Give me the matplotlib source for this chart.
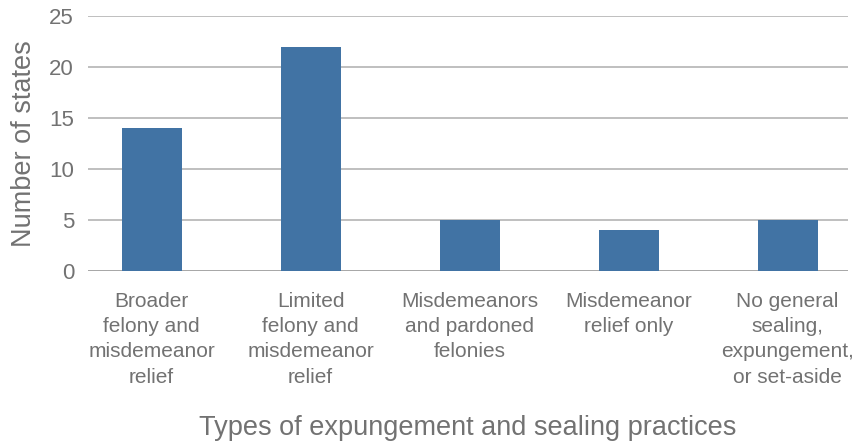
import matplotlib.pyplot as plt

categories = ['Broader\nfelony and\nmisdemeanor\nrelief',
              'Limited\nfelony and\nmisdemeanor\nrelief',
              'Misdemeanors\nand pardoned\nfelonies',
              'Misdemeanor\nrelief only',
              'No general\nsealing,\nexpungement,\nor set-aside']
states = [14, 22, 5, 4, 5]
yticks = [0, 5, 10, 15, 20, 25]

plt.rcParams['font.family'] = ['Liberation Sans', 'DejaVu Sans']
grey = '#727272'

fig = plt.figure(figsize=(8.56, 4.47), dpi=100)
ax = fig.add_axes([88 / 856, 176 / 447, 760 / 856, 255 / 447])

ax.bar(range(len(categories)), states, width=0.378, color='#4173a4', zorder=3)
ax.set_xlim(-0.4, 4.38)
ax.set_ylim(0, 25)
ax.set_yticks(yticks)
ax.yaxis.grid(True, color='#b4b4b4', linewidth=1.2, zorder=0)
ax.set_axisbelow(True)
for s in ax.spines.values():
    s.set_visible(False)
ax.axhline(0, color='#a8a8a8', linewidth=1.4, zorder=2)

ax.tick_params(axis='y', length=0, pad=10, labelsize=16, labelcolor=grey)
ax.tick_params(axis='x', length=0, pad=15, labelsize=15, labelcolor=grey)
ax.set_xticks(range(len(categories)))
ax.set_xticklabels(categories, linespacing=1.42, va='top')

ax.set_ylabel('Number of states', fontsize=19.5, color=grey, labelpad=9)
ax.set_xlabel('Types of expungement and sealing practices', fontsize=19.5, color=grey, labelpad=20)

fig.savefig('out.png', dpi=100)
